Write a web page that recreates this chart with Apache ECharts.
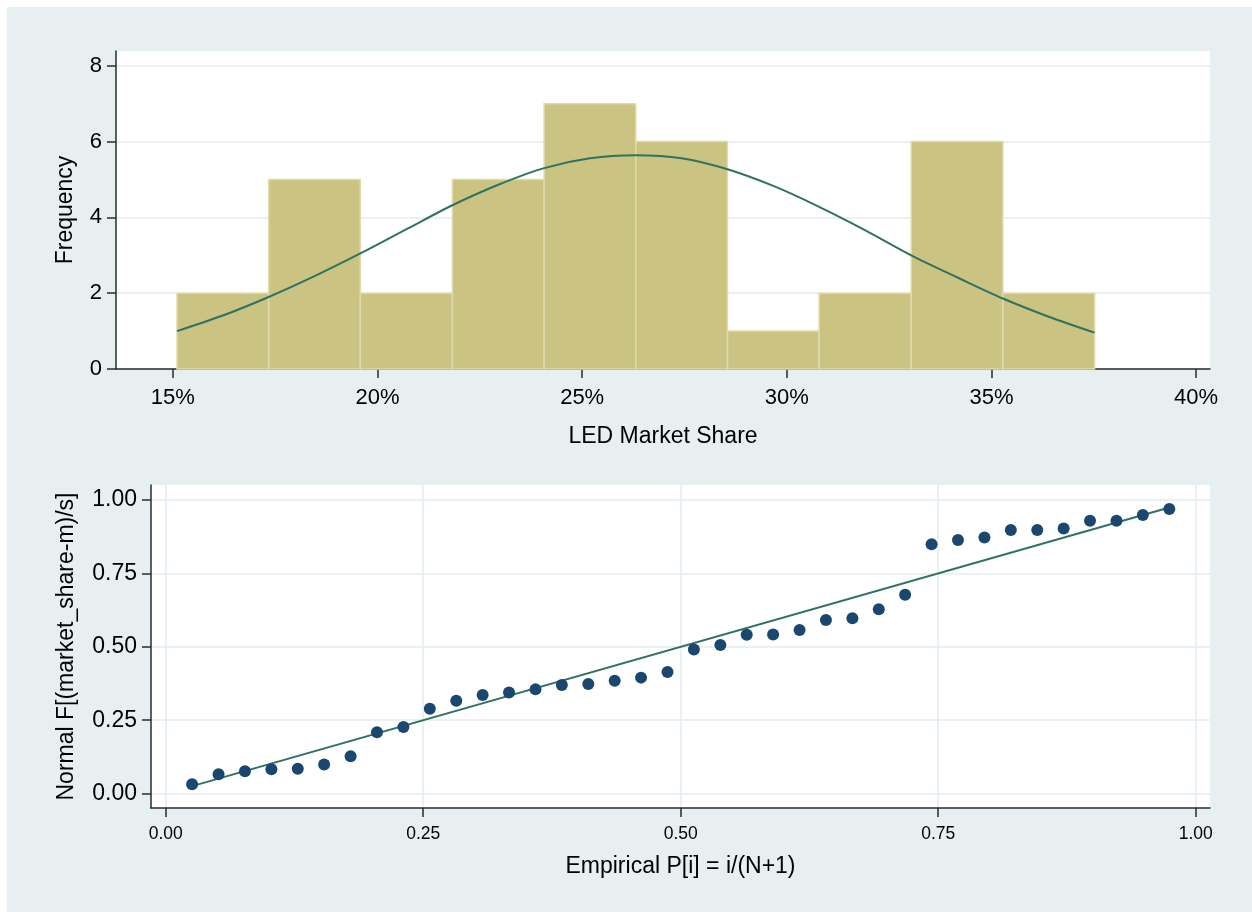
<!DOCTYPE html>
<html>
<head>
<meta charset="utf-8">
<title>LED market share</title>
<script src="https://cdn.jsdelivr.net/npm/echarts@6/dist/echarts.min.js"></script>
<style>
  html, body { margin: 0; padding: 0; background: #fff; }
  #chart {
    width: 1252px;
    height: 912px;
    background: linear-gradient(#e8eff1, #e8eff1) 7px 7px / 1245px 905px no-repeat, #fff;
  }
</style>
</head>
<body>
<div id="chart"></div>
<script>
// histogram of LED market share (bin edges as shares, counts per bin)
const binEdges = [0.151, 0.1734, 0.1958, 0.2183, 0.2407, 0.2631, 0.2855, 0.3079, 0.3304, 0.3528, 0.3752];
const binCounts = [2, 5, 2, 5, 7, 6, 1, 2, 6, 2];

// normal density overlay, read at half-bin steps
const curveX = [0.151, 0.1622, 0.1734, 0.1846, 0.1958, 0.2071, 0.2183, 0.2295, 0.2407, 0.2519, 0.2631,
  0.2743, 0.2855, 0.2967, 0.3079, 0.3192, 0.3304, 0.3416, 0.3528, 0.364, 0.3752];
const curveY = [1.0, 1.41, 1.9, 2.45, 3.05, 3.69, 4.32, 4.86, 5.3, 5.56, 5.64,
  5.56, 5.27, 4.83, 4.28, 3.66, 3.0, 2.42, 1.86, 1.38, 0.96];

const histTicks = [0.15, 0.2, 0.25, 0.3, 0.35, 0.4];
const freqTicks = [0, 2, 4, 6, 8];

// normal probability plot: empirical P[i] vs normal F
const empiricalP = [0.0256, 0.0513, 0.0769, 0.1026, 0.1282, 0.1538, 0.1795, 0.2051, 0.2308, 0.2564,
  0.2821, 0.3077, 0.3333, 0.359, 0.3846, 0.4103, 0.4359, 0.4615, 0.4872, 0.5128,
  0.5385, 0.5641, 0.5897, 0.6154, 0.641, 0.6667, 0.6923, 0.7179, 0.7436, 0.7692,
  0.7949, 0.8205, 0.8462, 0.8718, 0.8974, 0.9231, 0.9487, 0.9744];
const normalF = [0.032, 0.066, 0.076, 0.083, 0.085, 0.099, 0.127, 0.209, 0.227, 0.289,
  0.316, 0.336, 0.344, 0.355, 0.370, 0.373, 0.384, 0.395, 0.414, 0.491,
  0.506, 0.541, 0.542, 0.557, 0.591, 0.597, 0.628, 0.677, 0.849, 0.864,
  0.872, 0.898, 0.898, 0.903, 0.929, 0.929, 0.949, 0.969];
const refLine = [[0.0256, 0.0256], [0.9744, 0.9744]];

const probTicks = [0, 0.25, 0.5, 0.75, 1];

const FONT = "'Liberation Sans', Arial, sans-serif";
const AXIS_COLOR = "#2b2b2b";
const GRID_COLOR = "#e3ecef";
const LINE_COLOR = "#2f7262";

const chart = echarts.init(document.getElementById("chart"));

const bins = binCounts.map((c, i) => [binEdges[i], binEdges[i + 1], c]);

function axisBase(ticks, fontSize, margin, fmt) {
  return {
    type: "value",
    axisLine: { show: true, onZero: false, lineStyle: { color: AXIS_COLOR, width: 1.5 } },
    axisTick: { show: true, length: 9, customValues: ticks, lineStyle: { color: AXIS_COLOR, width: 1.5 } },
    axisLabel: { customValues: ticks, color: "#000", fontSize, fontFamily: FONT, margin, formatter: fmt },
    nameTextStyle: { color: "#000", fontSize: 23, fontFamily: FONT },
    nameLocation: "middle",
  };
}

chart.setOption({
  animation: false,
  grid: [
    { left: 116, top: 51, right: 42, height: 318, show: true, backgroundColor: "#fff", borderWidth: 0 },
    { left: 151, top: 485, right: 42, height: 323, show: true, backgroundColor: "#fff", borderWidth: 0 },
  ],
  xAxis: [
    {
      ...axisBase(histTicks, 22, 18, (v) => Math.round(v * 100) + "%"),
      gridIndex: 0,
      min: 0.1361,
      max: 0.4034,
      name: "LED Market Share",
      nameGap: 56,
      splitLine: { show: false },
    },
    {
      ...axisBase(probTicks, 17.5, 17, (v) => v.toFixed(2)),
      gridIndex: 1,
      min: -0.0143,
      max: 1.0139,
      name: "Empirical P[i] = i/(N+1)",
      nameGap: 47,
      splitLine: { show: true, lineStyle: { color: GRID_COLOR, width: 1.5 } },
    },
  ],
  yAxis: [
    {
      ...axisBase(freqTicks, 22, 14, (v) => String(v)),
      gridIndex: 0,
      min: 0,
      max: 8.39,
      name: "Frequency",
      nameGap: 39,
      splitLine: { show: true, lineStyle: { color: GRID_COLOR, width: 1.5 } },
    },
    {
      ...axisBase(probTicks, 23, 14, (v) => v.toFixed(2)),
      gridIndex: 1,
      min: -0.049,
      max: 1.051,
      name: "Normal F[(market_share-m)/s]",
      nameGap: 73,
      splitLine: { show: true, lineStyle: { color: GRID_COLOR, width: 1.5 } },
    },
  ],
  series: [
    {
      type: "custom",
      xAxisIndex: 0,
      yAxisIndex: 0,
      data: bins,
      encode: { x: [0, 1], y: 2 },
      renderItem: (params, api) => {
        const topLeft = api.coord([api.value(0), api.value(2)]);
        const bottomRight = api.coord([api.value(1), 0]);
        return {
          type: "rect",
          shape: {
            x: topLeft[0],
            y: topLeft[1],
            width: bottomRight[0] - topLeft[0],
            height: bottomRight[1] - topLeft[1],
          },
          style: { fill: "#cbc382", stroke: "#e0dbab", lineWidth: 1.5 },
        };
      },
    },
    {
      type: "line",
      xAxisIndex: 0,
      yAxisIndex: 0,
      data: curveX.map((x, i) => [x, curveY[i]]),
      smooth: 0.3,
      showSymbol: false,
      lineStyle: { color: LINE_COLOR, width: 2 },
      z: 5,
    },
    {
      type: "line",
      xAxisIndex: 1,
      yAxisIndex: 1,
      data: refLine,
      showSymbol: false,
      lineStyle: { color: LINE_COLOR, width: 2 },
      z: 3,
    },
    {
      type: "scatter",
      xAxisIndex: 1,
      yAxisIndex: 1,
      data: empiricalP.map((p, i) => [p, normalF[i]]),
      symbolSize: 12,
      itemStyle: { color: "#1a476f", opacity: 1 },
      z: 4,
    },
  ],
});

window.addEventListener("resize", () => chart.resize());
</script>
</body>
</html>
